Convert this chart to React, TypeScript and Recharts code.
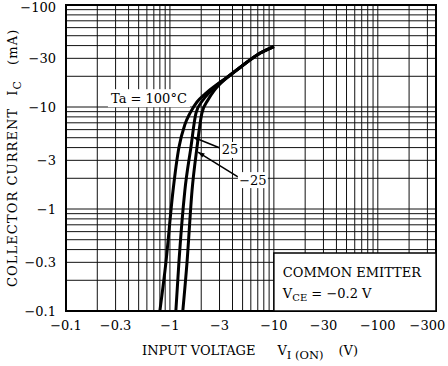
import { CartesianGrid, Customized, Line, LineChart, ReferenceArea, ReferenceDot, ReferenceLine, XAxis, YAxis } from "recharts";

// |V_I(ON)| in volts, |I_C| in mA (drawn as magnitudes on log axes, labelled negative)
const ta100 = [
  { v: 0.8, i: 0.1 },
  { v: 0.915, i: 0.3 },
  { v: 1.07, i: 1.5 },
  { v: 1.22, i: 4.0 },
  { v: 1.39, i: 6.7 },
  { v: 1.56, i: 8.7 },
  { v: 1.82, i: 11.2 },
  { v: 2.17, i: 13.4 },
  { v: 2.71, i: 16.1 },
  { v: 3.3, i: 18.4 },
  { v: 4.8, i: 24.7 },
  { v: 6.9, i: 32.4 },
  { v: 10, i: 39 },
];

const ta25 = [
  { v: 1.14, i: 0.1 },
  { v: 1.22, i: 0.3 },
  { v: 1.39, i: 1.5 },
  { v: 1.59, i: 4.0 },
  { v: 1.78, i: 8.7 },
  { v: 2.08, i: 11.7 },
  { v: 2.42, i: 14.0 },
  { v: 2.9, i: 16.8 },
  { v: 3.45, i: 19.2 },
  { v: 4.8, i: 24.7 },
  { v: 6.9, i: 32.4 },
  { v: 10, i: 39 },
];

const taMinus25 = [
  { v: 1.33, i: 0.1 },
  { v: 1.46, i: 0.3 },
  { v: 1.63, i: 1.5 },
  { v: 1.82, i: 4.0 },
  { v: 2.03, i: 8.7 },
  { v: 2.32, i: 11.7 },
  { v: 2.65, i: 14.4 },
  { v: 3.03, i: 16.8 },
  { v: 3.61, i: 19.7 },
  { v: 4.8, i: 24.7 },
  { v: 6.9, i: 32.4 },
  { v: 10, i: 39 },
];

const xLabels = [0.1, 0.3, 1, 3, 10, 30, 100, 300];
const yLabels = [0.1, 0.3, 1, 3, 10, 30, 100];

const FONT = "DejaVu Serif";

// log grid: 1..9 per decade
function logTicks(from: number, to: number) {
  const out: number[] = [];
  for (let e = -1; e <= 3; e++) {
    for (let k = 1; k <= 9; k++) {
      const t = Number((k * Math.pow(10, e)).toPrecision(3));
      if (t >= from && t <= to) out.push(t);
    }
  }
  return out;
}

const xTicks = logTicks(0.1, 363);
const yTicks = logTicks(0.1, 100);

const isLabel = (labels: number[], t: number) => labels.some((l) => Math.abs(l - t) < 1e-9);
const fmt = (labels: number[]) => (t: number) => (isLabel(labels, t) ? `\u2212${t}` : "");

function YTick({ x, y, payload }: any) {
  if (!isLabel(yLabels, payload.value)) return null;
  return (
    <text x={x} y={Math.max(y, 7)} textAnchor="end" dominantBaseline="central" fontFamily={FONT} fontSize={13} fill="#000">
      {`\u2212${payload.value}`}
    </text>
  );
}

function TextBox({ cx, cy, text, w, h }: any) {
  return (
    <g>
      <rect x={cx - w / 2} y={cy - h / 2} width={w} height={h} fill="#fff" />
      <text x={cx} y={cy} textAnchor="middle" dominantBaseline="central" fontFamily={FONT} fontSize={13} fill="#000">
        {text}
      </text>
    </g>
  );
}

function Arrow({ x1, y1, x2, y2 }: any) {
  const a = Math.atan2(y2 - y1, x2 - x1);
  const len = 7;
  const p1 = [x2 - len * Math.cos(a - 0.35), y2 - len * Math.sin(a - 0.35)];
  const p2 = [x2 - len * Math.cos(a + 0.35), y2 - len * Math.sin(a + 0.35)];
  return (
    <g>
      <line x1={x1} y1={y1} x2={x2} y2={y2} stroke="#000" strokeWidth={1.5} />
      <polygon points={`${x2},${y2} ${p1[0]},${p1[1]} ${p2[0]},${p2[1]}`} fill="#000" />
    </g>
  );
}

function Titles() {
  return (
    <g fontFamily={FONT} fill="#000">
      <text x={142} y={355} fontSize={13}>
        INPUT VOLTAGE
        <tspan dx={22}>V</tspan>
        <tspan dy={4} fontSize={11.5}>I (ON)</tspan>
        <tspan dx={15} dy={-4}>(V)</tspan>
      </text>
      <text x={0} y={0} fontSize={13} letterSpacing={1.1} transform="translate(17,287) rotate(-90)">
        COLLECTOR CURRENT
        <tspan dx={12}>I</tspan>
        <tspan dy={4} fontSize={11}>C</tspan>
        <tspan dx={15} dy={-4}>(mA)</tspan>
      </text>
    </g>
  );
}

function EmitterLabel({ viewBox }: any) {
  const { x, y } = viewBox;
  return (
    <g fontFamily={FONT} fontSize={13} fill="#000">
      <text x={x + 9} y={y + 24}>COMMON EMITTER</text>
      <text x={x + 9} y={y + 45}>
        V<tspan dy={3} fontSize={10}>CE</tspan>
        <tspan dy={-3}> = {"\u2212"}0.2 V</tspan>
      </text>
    </g>
  );
}

export default function App() {
  return (
    <div style={{ position: "absolute", left: 0, top: 0, width: 448, height: 366, background: "#fff" }}>
      <LineChart width={448} height={366} margin={{ top: 5, right: 12, bottom: 25, left: 10 }}>
        <CartesianGrid stroke="#111" strokeWidth={1} />
        <XAxis
          dataKey="v"
          type="number"
          scale="log"
          domain={[0.1, 363]}
          allowDataOverflow
          ticks={xTicks}
          interval={0}
          tickFormatter={fmt(xLabels)}
          tickLine={false}
          axisLine={false}
          height={30}
          tick={{ fontFamily: FONT, fontSize: 13, fill: "#000" }}
          tickMargin={4}
        />
        <YAxis
          dataKey="i"
          type="number"
          scale="log"
          domain={[0.1, 100]}
          allowDataOverflow
          ticks={yTicks}
          interval={0}
          tick={<YTick />}
          tickLine={false}
          axisLine={false}
          width={56}
          tickMargin={4}
        />
        <ReferenceArea x1={0.1} x2={363} y1={0.1} y2={100} fill="none" stroke="#000" strokeWidth={2} ifOverflow="visible" />
        <ReferenceArea
          x1={10}
          x2={363}
          y1={0.1}
          y2={0.37}
          fill="#fff"
          fillOpacity={1}
          stroke="#000"
          strokeWidth={1.5}
          ifOverflow="visible"
          label={<EmitterLabel />}
        />
        <ReferenceDot x={0.628} y={12.2} r={0} shape={(p: any) => <TextBox {...p} text="Ta = 100°C" w={82} h={18} />} />
        <ReferenceDot x={3.78} y={3.79} r={0} shape={(p: any) => <TextBox {...p} text="25" w={20} h={16} />} />
        <ReferenceDot x={6.28} y={1.92} r={0} shape={(p: any) => <TextBox {...p} text={"\u221225"} w={30} h={16} />} />
        <ReferenceLine segment={[{ x: 3.03, y: 3.96 }, { x: 1.66, y: 5.08 }]} shape={(p: any) => <Arrow {...p} />} />
        <ReferenceLine segment={[{ x: 4.51, y: 2.06 }, { x: 1.86, y: 3.62 }]} shape={(p: any) => <Arrow {...p} />} />
        <Line data={ta100} dataKey="i" type="monotone" stroke="#000" strokeWidth={3} dot={false} isAnimationActive={false} />
        <Line data={ta25} dataKey="i" type="monotone" stroke="#000" strokeWidth={3} dot={false} isAnimationActive={false} />
        <Line data={taMinus25} dataKey="i" type="monotone" stroke="#000" strokeWidth={3} dot={false} isAnimationActive={false} />
        <Customized component={Titles} />
      </LineChart>
    </div>
  );
}
